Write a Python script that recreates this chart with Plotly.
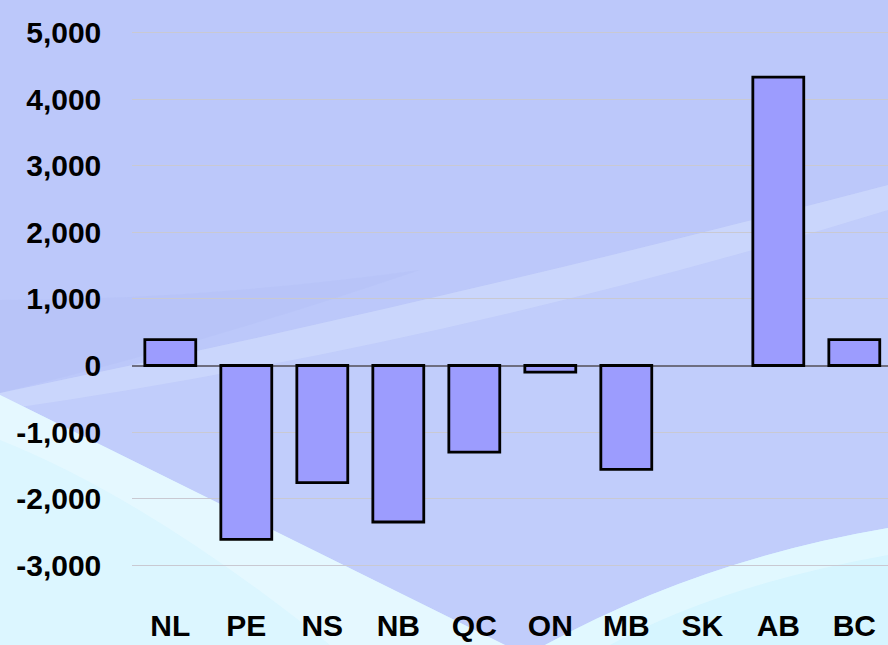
import plotly.graph_objects as go

# ---- data ----
provinces = ["NL", "PE", "NS", "NB", "QC", "ON", "MB", "SK", "AB", "BC"]
values = [390, -2610, -1760, -2350, -1300, -100, -1560, 0, 4330, 390]
tick_vals = [5000, 4000, 3000, 2000, 1000, 0, -1000, -2000, -3000]
tick_text = ["5,000", "4,000", "3,000", "2,000", "1,000", "0", "-1,000", "-2,000", "-3,000"]

W, H = 888, 645
FONT = "Liberation Sans, Arial, sans-serif"


def px(x, y):
    return f"{x / W:.5f},{1 - y / H:.5f}"


def path(cmds):
    out = []
    for c in cmds:
        if isinstance(c, str):
            out.append(c)
        else:
            out.append(px(*c))
    return " ".join(out)


bg_shapes = [
    # faint darker tint above the swoosh at the far left
    dict(d=path(["M", (0, 300), "Q", (200, 300), (420, 270), "Q", (200, 345), (0, 393), "Z"]),
         color="#AFBEF5", op=0.3),
    # broad lighter area below the swoosh edge
    dict(d=path(["M", (0, 393), "Q", (450, 300), (888, 185), "L", (888, 645), "L", (0, 645), "Z"]),
         color="#CBD6FD", op=0.35),
    # brighter band near upper edge of the swoosh
    dict(d=path(["M", (0, 393), "Q", (450, 300), (888, 185), "L", (888, 210), "Q", (450, 345), (0, 410), "Z"]),
         color="#D3DFFE", op=0.5),
    # lower-left white/cyan wedge
    dict(d=path(["M", (0, 395), "L", (505, 645), "L", (0, 645), "Z"]),
         color="#DCF6FF", op=1.0),
    dict(d=path(["M", (0, 395), "L", (505, 645), "L", (330, 645), "Q", (150, 500), (0, 440), "Z"]),
         color="#E8FAFF", op=0.7),
    # bottom-right cyan region
    dict(d=path(["M", (545, 645), "Q", (700, 560), (888, 528), "L", (888, 645), "Z"]),
         color="#D6F5FF", op=1.0),
    dict(d=path(["M", (545, 645), "Q", (700, 560), (888, 528), "L", (888, 555), "Q", (720, 585), (610, 645), "Z"]),
         color="#E4F9FF", op=0.8),
]

shapes = []
for s in bg_shapes:
    shapes.append(dict(type="path", xref="paper", yref="paper", path=s["d"],
                       fillcolor=s["color"], opacity=s["op"], line=dict(width=0), layer="below"))

# no outline for zero-height bars (nothing visible in the reference)
line_widths = [0 if v == 0 else 2.8 for v in values]

fig = go.Figure(
    go.Bar(
        x=provinces,
        y=values,
        width=0.67,
        marker=dict(color="#9C9CFE", line=dict(color="#000000", width=line_widths)),
        hoverinfo="x+y",
    )
)

plot_left, plot_bottom = 132.3, 600
tickfont = dict(family=FONT, size=30, color="#000000", weight="bold")
fig.update_layout(
    width=W,
    height=H,
    margin=dict(l=0, r=0, t=0, b=0),
    paper_bgcolor="#BCC8FA",
    plot_bgcolor="rgba(0,0,0,0)",
    showlegend=False,
    shapes=shapes,
    xaxis=dict(
        domain=[plot_left / W, 1],
        range=[-0.5, (W - plot_left) / 76.0 - 0.5],
        showgrid=False,
        showline=False,
        ticks="",
        tickfont=tickfont,
        ticklabelstandoff=5,
        automargin=False,
    ),
    yaxis=dict(
        domain=[1 - plot_bottom / H, 1],
        range=[-(plot_bottom - 365.5) / 0.0666, 365.5 / 0.0666],
        tickvals=tick_vals,
        ticktext=tick_text,
        showgrid=True,
        gridcolor="#C9C9D2",
        gridwidth=1,
        zeroline=True,
        zerolinecolor="#6E6E80",
        zerolinewidth=1.5,
        showline=False,
        ticks="",
        tickfont=tickfont,
        ticklabelstandoff=30,
        automargin=False,
    ),
)

fig.write_html("out.html")
